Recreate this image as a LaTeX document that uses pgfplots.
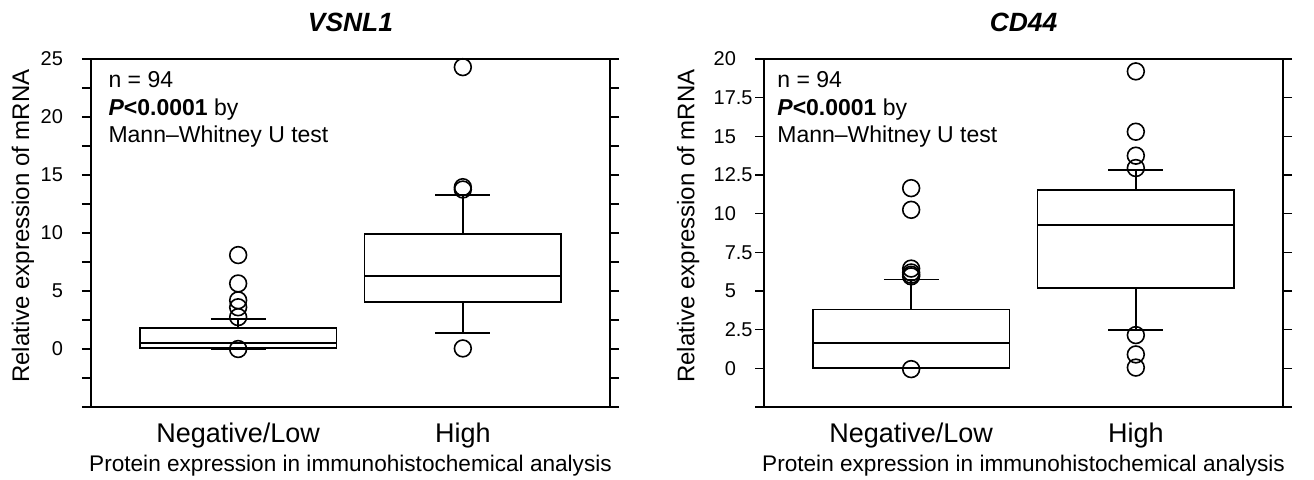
\documentclass[border=0pt]{standalone}
\usepackage{fontspec}
\setmainfont{Liberation Sans}
\usepackage{pgfplots}
\pgfplotsset{compat=1.18}
\usepgfplotslibrary{statistics}
\newcommand{\fs}[1]{\fontsize{#1}{#1}\selectfont}
\pgfplotsset{
  mybox/.style={
    scale only axis, width=259.5pt, height=174pt,
    axis line style={line width=0.9pt},
    tick style={black, line width=0.8pt},
    tick align=outside, major tick length=4.5pt,
    xmin=0.345, xmax=2.655,
    xtick={1,2}, xticklabels={Negative/Low, High},
    major x tick style={draw=none},
    xticklabel style={font=\fs{13.5}, anchor=base, yshift=-13pt},
    yticklabel style={font=\fs{10}, inner sep=1pt},
    ylabel={Relative expression of mRNA},
    ylabel style={font=\fs{12}, at={(axis description cs:-0.131,0.52)}, anchor=center},
    xlabel={Protein expression in immunohistochemical analysis},
    xlabel style={font=\fs{11.3}, at={(axis description cs:0.5,0)}, anchor=base, yshift=-32pt},
    title style={font=\fs{13.2}\bfseries\itshape, at={(axis description cs:0.5,1)}, anchor=base, yshift=7.85pt},
    clip=false,
    boxplot/draw direction=y,
  },
  bp/.style={black, line width=0.9pt, mark=o, mark size=4.2pt, mark options={black, line width=0.8pt, solid}},
}
\begin{document}
\begin{tikzpicture}
\useasboundingbox (-45.5pt,-36pt) rectangle (611.5pt,203.5pt);
% ---------------- VSNL1 ----------------
\begin{axis}[mybox, at={(0pt,0pt)}, anchor=south west,
  title={VSNL1},
  ymin=-5, ymax=25,
  ytick={-5,-2.5,0,2.5,5,7.5,10,12.5,15,17.5,20,22.5,25},
  yticklabels={{},{},0\hphantom{.5},{},5\hphantom{.5},{},10\hphantom{.5},{},15\hphantom{.5},{},20\hphantom{.5},{},25\hphantom{.5}},
]
\addplot[bp, boxplot prepared={draw position=1, box extend=0.875, whisker extend=0.244,
  lower whisker=0.0, lower quartile=0.12, median=0.55, upper quartile=1.8, upper whisker=2.6}]
  table[row sep=\\, y index=0] {data\\ 8.1\\ 5.65\\ 4.2\\ 3.6\\ 2.75\\ 0.0\\};
\addplot[bp, boxplot prepared={draw position=2, box extend=0.875, whisker extend=0.244,
  lower whisker=1.4, lower quartile=4.05, median=6.3, upper quartile=9.9, upper whisker=13.3}]
  table[row sep=\\, y index=0] {data\\ 24.3\\ 13.95\\ 13.75\\ 0.05\\};
\node[anchor=base west, font=\fs{11.5}, inner sep=0pt] at (rel axis cs:0.033,0.9195) {n = 94};
\node[anchor=base west, font=\fs{11.5}, inner sep=0pt] at (rel axis cs:0.033,0.839) {\textbf{\textit{P}<0.0001} by};
\node[anchor=base west, font=\fs{11.5}, inner sep=0pt] at (rel axis cs:0.033,0.759) {Mann–Whitney U test};
\end{axis}
% ---------------- CD44 ----------------
\begin{axis}[mybox, at={(336.5pt,0pt)}, anchor=south west,
  title={CD44},
  ylabel style={at={(axis description cs:-0.146,0.52)}},
  ymin=-2.5, ymax=20,
  ytick={-2.5,0,2.5,5,7.5,10,12.5,15,17.5,20},
  yticklabels={{},0\hphantom{.5},2.5,5\hphantom{.5},7.5,10\hphantom{.5},12.5,15\hphantom{.5},17.5,20\hphantom{.5}},
]
\addplot[bp, boxplot prepared={draw position=1, box extend=0.875, whisker extend=0.244,
  lower whisker=0.0, lower quartile=0.0, median=1.63, upper quartile=3.8, upper whisker=5.75}]
  table[row sep=\\, y index=0] {data\\ 11.65\\ 10.25\\ 6.45\\ 6.2\\ 6.05\\ 5.95\\ -0.05\\};
\addplot[bp, boxplot prepared={draw position=2, box extend=0.875, whisker extend=0.244,
  lower whisker=2.5, lower quartile=5.2, median=9.28, upper quartile=11.55, upper whisker=12.8}]
  table[row sep=\\, y index=0] {data\\ 19.2\\ 15.3\\ 13.75\\ 12.95\\ 2.15\\ 0.9\\ 0.05\\};
\node[anchor=base west, font=\fs{11.5}, inner sep=0pt] at (rel axis cs:0.025,0.9195) {n = 94};
\node[anchor=base west, font=\fs{11.5}, inner sep=0pt] at (rel axis cs:0.025,0.839) {\textbf{\textit{P}<0.0001} by};
\node[anchor=base west, font=\fs{11.5}, inner sep=0pt] at (rel axis cs:0.025,0.759) {Mann–Whitney U test};
\end{axis}
\end{tikzpicture}
\end{document}
